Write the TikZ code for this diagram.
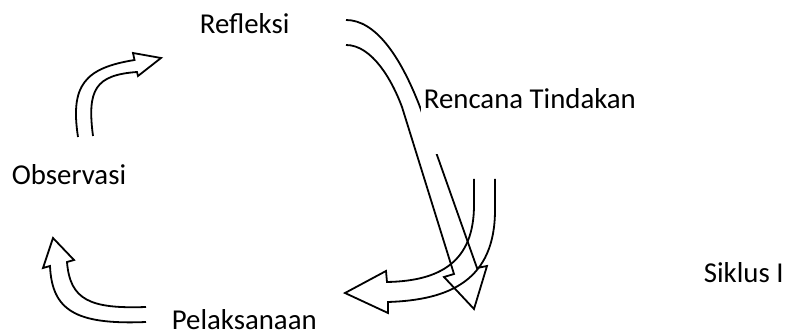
\documentclass[tikz,border=0pt]{standalone}
\usepackage{fontspec}
\setmainfont{Carlito}
\usetikzlibrary{positioning}

\begin{document}
\begin{tikzpicture}[x=0.5pt, y=-0.5pt, line width=0.9pt,
        stage/.style={anchor=base west, inner sep=0pt, font=\fontsize{14.4}{17}\selectfont}]
        \useasboundingbox (0,0) rectangle (789,336);

        % refleksi -> rencana
        \draw (346,20) .. controls (375,20) and (400,55) .. (420,107) -- (477,268)
        -- (487,266) -- (474,309) -- (444,277) -- (454,274)
        -- (402,107) .. controls (392,80) and (372,45) .. (346,45);
        % rencana -> pelaksanaan
        \draw (474,179) -- (474,205) .. controls (474,262) and (440,281) .. (387,282)
        -- (386,271) -- (345,293) -- (388,313)
        -- (388,302) .. controls (450,300) and (495,280) .. (495,210) -- (495,179);
        % pelaksanaan -> observasi
        \draw (146,307) .. controls (90,309) and (70,300) .. (67,262)
        -- (74,260) -- (53,238) -- (43,268)
        -- (50,266) .. controls (52,310) and (75,325) .. (146,322);
        % observasi -> refleksi
        \draw (78,137) .. controls (70,85) and (85,68) .. (134.5,60)
        -- (133,53) -- (161,58) -- (138,76)
        -- (137,72) .. controls (95,75) and (87,90) .. (93,136);

        \node[stage] (refleksi) at (199,34) {Refleksi};
        \node[stage, fill=white, inner xsep=1.5pt, text depth=22.5pt] (rencana) at (420,109) {Rencana Tindakan};
        \node[stage] (observasi) at (11,185) {Observasi};
        \node[stage] (pelaksanaan) at (171,330) {Pelaksanaan};
        \node[stage] (siklus) at (703,283) {Siklus I};
    \end{tikzpicture}
\end{document}
